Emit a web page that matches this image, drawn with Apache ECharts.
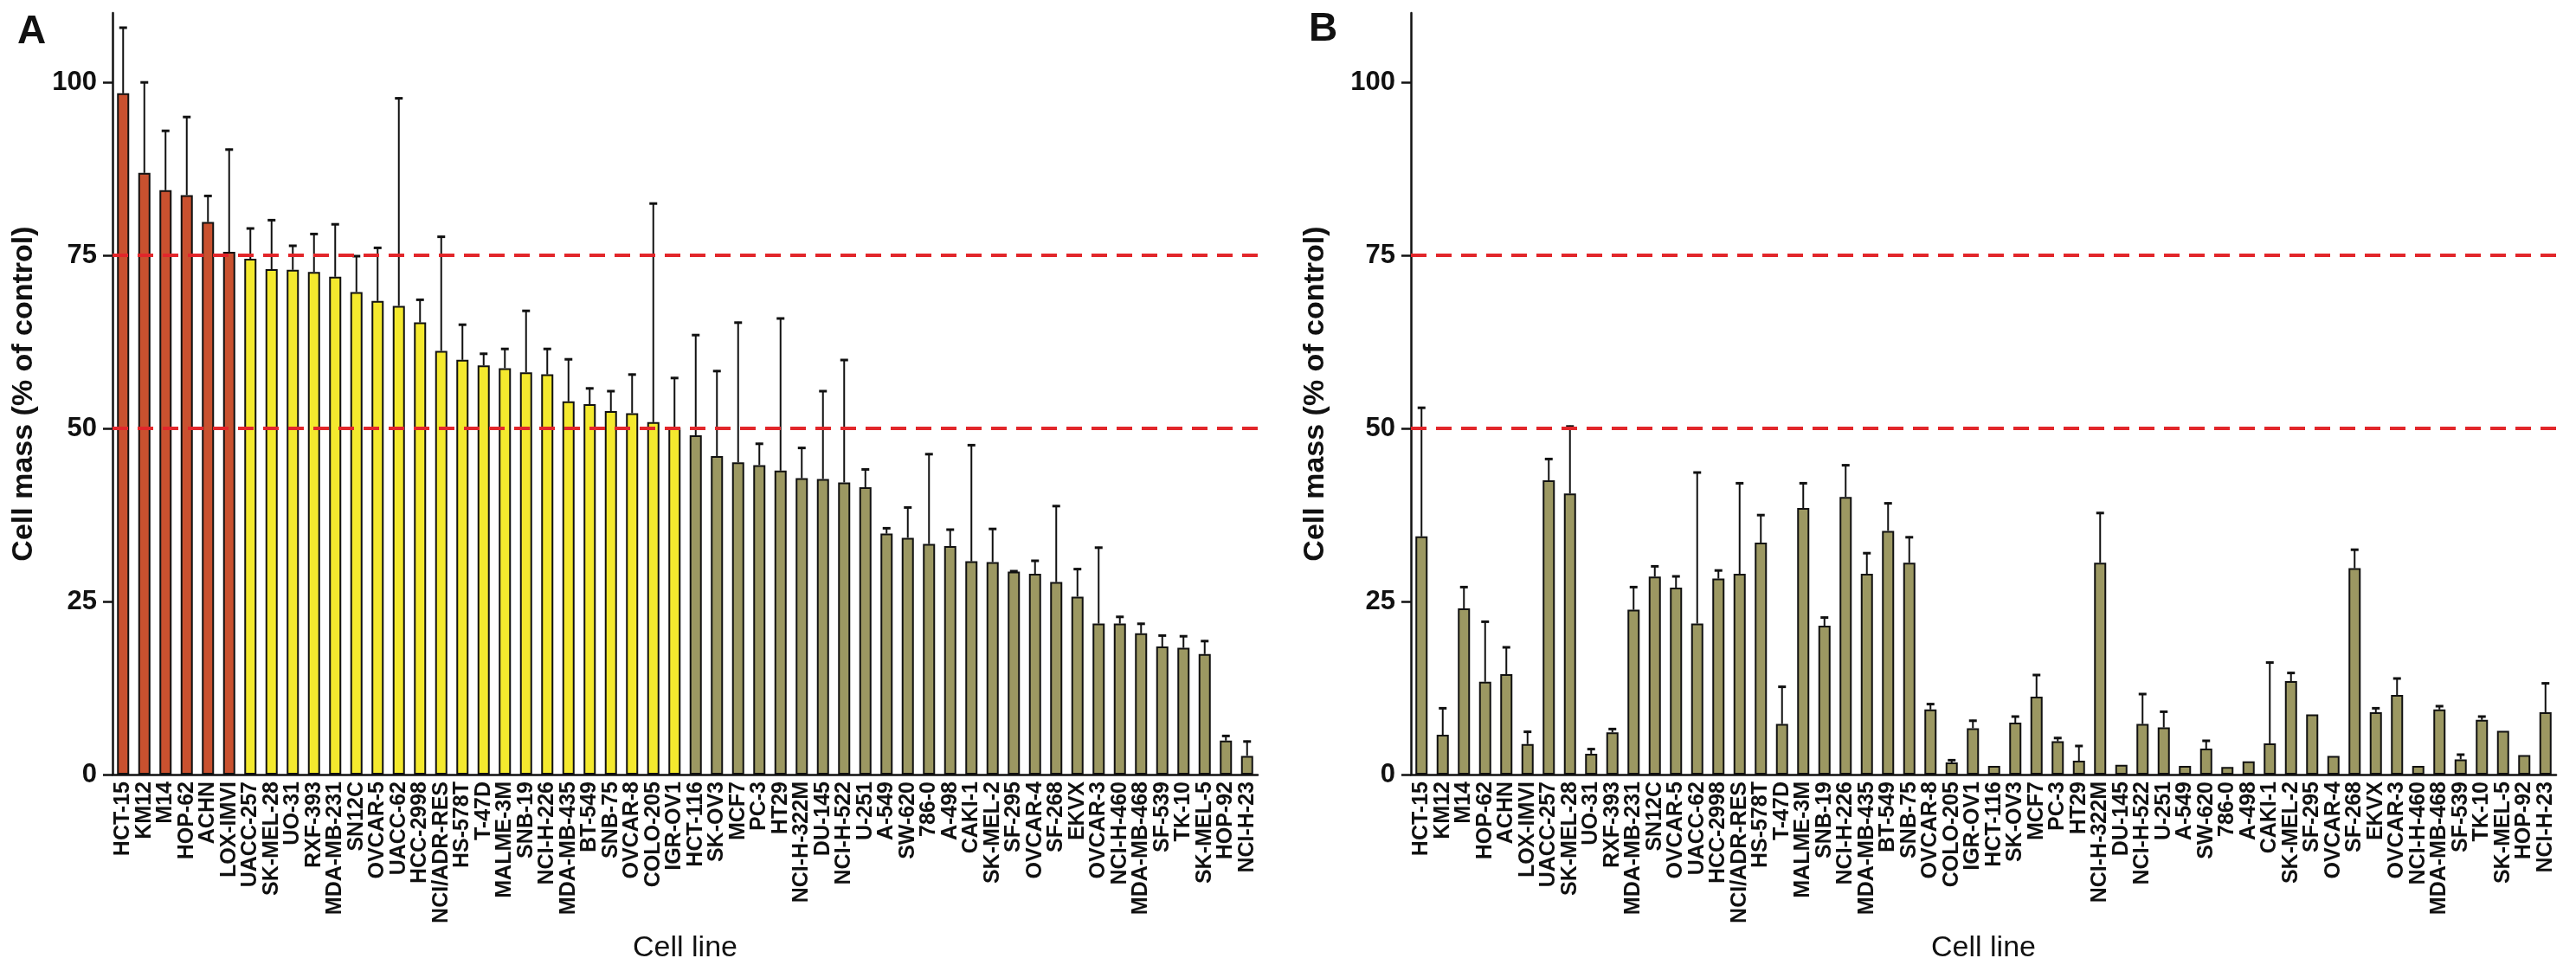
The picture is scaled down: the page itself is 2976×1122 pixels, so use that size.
<!DOCTYPE html>
<html>
<head>
<meta charset="utf-8">
<script src="https://cdn.jsdelivr.net/npm/echarts@6/dist/echarts.min.js"></script>
<style>
html,body{margin:0;padding:0;background:#fff;}
#chart{width:2976px;height:1122px;}
</style>
</head>
<body>
<div id="chart"></div>
<script>
// ---- data ----
const cellLines = ["HCT-15","KM12","M14","HOP-62","ACHN","LOX-IMVI","UACC-257","SK-MEL-28","UO-31","RXF-393",
  "MDA-MB-231","SN12C","OVCAR-5","UACC-62","HCC-2998","NCI/ADR-RES","HS-578T","T-47D","MALME-3M","SNB-19",
  "NCI-H-226","MDA-MB-435","BT-549","SNB-75","OVCAR-8","COLO-205","IGR-OV1","HCT-116","SK-OV3","MCF7",
  "PC-3","HT29","NCI-H-322M","DU-145","NCI-H-522","U-251","A-549","SW-620","786-0","A-498",
  "CAKI-1","SK-MEL-2","SF-295","OVCAR-4","SF-268","EKVX","OVCAR-3","NCI-H-460","MDA-MB-468","SF-539",
  "TK-10","SK-MEL-5","HOP-92","NCI-H-23"];

// Panel A: mean cell mass (% of control) and upper end of error bar
const massA = [98.4,86.9,84.4,83.7,79.8,75.5,74.5,73.0,72.9,72.6,
  71.9,69.7,68.4,67.7,65.3,61.2,59.9,59.1,58.7,58.1,
  57.8,53.9,53.5,52.5,52.2,50.9,50.1,49.0,46.0,45.1,
  44.7,43.9,42.8,42.7,42.2,41.5,34.8,34.2,33.3,33.0,
  30.8,30.7,29.3,29.0,27.8,25.7,21.8,21.8,20.4,18.5,
  18.3,17.4,4.9,2.7];
const upperA = [108.0,100.1,93.1,95.1,83.7,90.4,79.0,80.2,76.5,78.2,
  79.6,75.0,76.2,97.8,68.7,77.8,65.1,60.9,61.6,67.1,
  61.6,60.1,55.9,55.5,57.9,82.6,57.4,63.6,58.4,65.4,
  47.9,66.0,47.3,55.5,60.0,44.2,35.7,38.7,46.4,35.5,
  47.7,35.6,29.5,31.0,38.9,29.8,32.9,22.9,21.9,20.2,
  20.1,19.4,5.7,4.9];

// Panel B
const massB = [34.4,5.75,24.0,13.4,14.5,4.4,42.5,40.6,3.0,6.1,
  23.8,28.6,27.0,21.8,28.3,29.0,33.5,7.3,38.5,21.5,
  40.1,29.0,35.2,30.6,9.4,1.75,6.7,1.25,7.5,11.25,
  4.8,2.0,30.6,1.4,7.3,6.8,1.25,3.75,1.1,1.9,
  4.5,13.5,8.7,2.7,29.8,9.0,11.5,1.25,9.4,2.2,
  7.9,6.3,2.8,9.0];
const upperB = [53.1,9.7,27.2,22.2,18.5,6.3,45.7,50.4,3.8,6.7,
  27.2,30.2,28.75,43.75,29.6,42.2,37.6,12.8,42.2,22.8,
  44.8,32.1,39.3,34.4,10.3,2.2,7.9,1.25,8.5,14.5,
  5.4,4.25,37.9,1.4,11.75,9.2,1.25,5.0,1.1,1.9,
  16.3,14.8,8.8,2.7,32.6,9.7,14.0,1.25,10.0,3.0,
  8.5,6.3,2.8,13.3];

const yTicks = [0,25,50,75,100];
const cutoffs = [75,50];           // dashed reference lines
const panelLetters = ["A","B"];

// ---- styles ----
const RED = '#c9512f', YELLOW = '#f4e92e', OLIVE = '#9c9862', DASH = '#e2262a';
function barColor(v){ return v >= cutoffs[0] ? RED : (v >= cutoffs[1] ? YELLOW : OLIVE); }

const FONT = "'Liberation Sans', Arial, sans-serif";
const NARROW = "'Liberation Sans Narrow', 'Liberation Sans', Arial, sans-serif";

const gridTop = 15, gridH = 880, gridW = 1323;
const grids = [
  {left:130, top:gridTop, width:gridW, height:gridH},
  {left:1630, top:gridTop, width:gridW, height:gridH}
];

function xAxisDef(gi){
  return {
    type:'category', gridIndex:gi, data:cellLines,
    axisLine:{show:true, lineStyle:{color:'#111', width:2.5}},
    axisTick:{show:false},
    axisLabel:{rotate:90, interval:0, margin:8, fontFamily:FONT, fontWeight:'bold', fontSize:25, color:'#111'},
    name:'Cell line', nameLocation:'middle', nameGap:201,
    nameTextStyle:{fontFamily:FONT, fontSize:34, color:'#111', verticalAlign:'middle'}
  };
}
function yAxisDef(gi, gap){
  return {
    type:'value', gridIndex:gi, min:0, max:110,
    splitLine:{show:false},
    axisLine:{show:true, lineStyle:{color:'#111', width:2.5}},
    axisTick:{show:true, length:11, lineStyle:{color:'#111', width:2.5}, customValues:yTicks},
    axisLabel:{fontFamily:NARROW, fontWeight:'bold', fontSize:31, color:'#111', margin:18, customValues:yTicks},
    name:'Cell mass (% of control)', nameLocation:'middle', nameRotate:90, nameGap:gap,
    nameTextStyle:{fontFamily:FONT, fontWeight:'bold', fontSize:34, color:'#111', verticalAlign:'middle'}
  };
}

function barSeries(gi, vals){
  return {
    type:'bar', xAxisIndex:gi, yAxisIndex:gi,
    barWidth:14,
    data: vals.map(v => ({value:v, itemStyle:{color:barColor(v)}})),
    itemStyle:{borderColor:'#111', borderWidth:2},
    z:2, silent:true
  };
}

function errSeries(gi, vals, uppers){
  return {
    type:'custom', xAxisIndex:gi, yAxisIndex:gi, z:4, silent:true,
    data: vals.map((v,i) => [i, v, uppers[i]]),
    renderItem: function(params, api){
      const i = api.value(0), v = api.value(1), u = api.value(2);
      const p0 = api.coord([i, v]), p1 = api.coord([i, u]);
      if (p0[1] - p1[1] < 1.5) return null;
      return {
        type:'group',
        children:[
          {type:'line', shape:{x1:p0[0], y1:p0[1], x2:p1[0], y2:p1[1]}, style:{stroke:'#111', lineWidth:2}},
          {type:'line', shape:{x1:p1[0]-4.5, y1:p1[1]+1, x2:p1[0]+4.5, y2:p1[1]+1}, style:{stroke:'#111', lineWidth:3}}
        ]
      };
    },
    markLine:{
      silent:true, symbol:['none','none'], label:{show:false},
      lineStyle:{color:DASH, width:4, type:[18,11], opacity:1},
      emphasis:{disabled:true},
      data: cutoffs.map(c => ({yAxis:c}))
    }
  };
}

const chart = echarts.init(document.getElementById('chart'), null, {renderer:'canvas'});
chart.setOption({
  animation:false,
  backgroundColor:'#fff',
  grid: grids,
  xAxis:[xAxisDef(0), xAxisDef(1)],
  yAxis:[yAxisDef(0,102), yAxisDef(1,110)],
  series:[
    barSeries(0, massA), errSeries(0, massA, upperA),
    barSeries(1, massB), errSeries(1, massB, upperB)
  ],
  graphic:[
    {type:'text', left:20, top:14, style:{text:panelLetters[0], font:"bold 46px 'Liberation Sans', Arial, sans-serif", fill:'#111'}},
    {type:'text', left:1512, top:11, style:{text:panelLetters[1], font:"bold 46px 'Liberation Sans', Arial, sans-serif", fill:'#111'}}
  ]
});
</script>
</body>
</html>
